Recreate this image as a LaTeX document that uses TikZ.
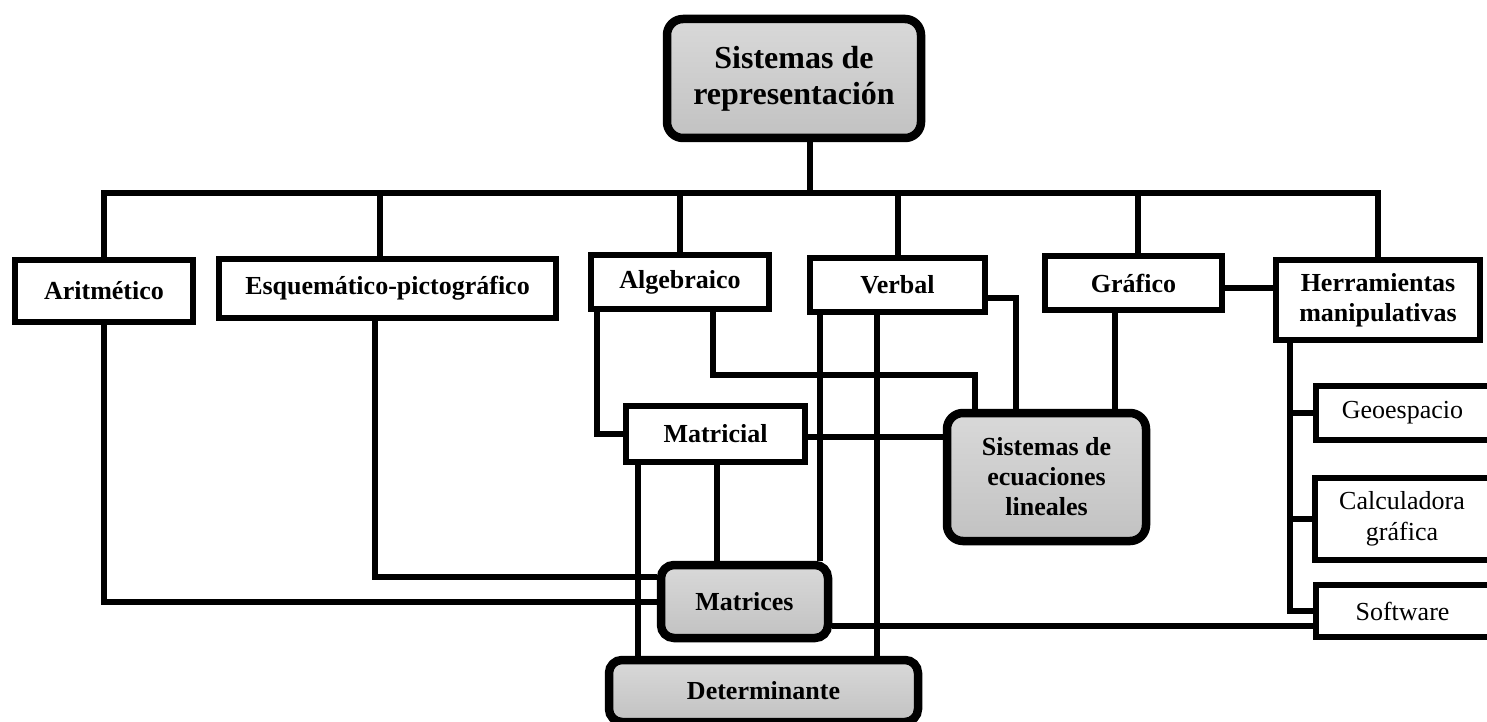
\documentclass[tikz,border=0pt]{standalone}
\usepackage{fontspec}
\setmainfont{Liberation Serif}
\usetikzlibrary{calc}

\tikzset{
  lbl/.style={font=\fontsize{26}{30}\selectfont\bfseries, align=center},
  plainbox/.style={draw, line width=6pt, fill=white, inner sep=0pt, lbl},
  toolbox/.style={draw, line width=6pt, fill=white, inner sep=0pt, align=center,
    font=\fontsize{26}{31}\selectfont},
  keybox/.style={draw, line width=8.5pt, rounded corners=16pt, inner sep=0pt,
    top color=gray!30, bottom color=gray!48, lbl},
  link/.style={line width=6pt, line join=miter, line cap=butt},
}

\begin{document}
\begin{tikzpicture}[x=1pt, y=-1pt]
  \useasboundingbox (0,0) rectangle (1487,722);
  \clip (0,0) rectangle (1487,722);

  % main concept
  \node[keybox, minimum width=254pt, minimum height=119pt,
        font=\fontsize{32}{36}\selectfont\bfseries] (top) at (794,78.5)
        {Sistemas de\\representación};

  % representation systems
  \node[plainbox, minimum width=178pt, minimum height=62pt] (arit) at (104,291) {Aritmético};
  \node[plainbox, minimum width=337pt, minimum height=59pt] (esq) at (387.5,288.5) {Esquemático-pictográfico};
  \node[plainbox, minimum width=178pt, minimum height=54pt] (alg) at (680,282) {Algebraico};
  \node[plainbox, minimum width=175pt, minimum height=54pt] (verb) at (897.5,285) {Verbal};
  \node[plainbox, minimum width=177pt, minimum height=54pt] (graf) at (1133.5,283) {Gráfico};
  \node[plainbox, minimum width=204pt, minimum height=80pt] (herr) at (1378,300) {Herramientas\\manipulativas};

  \node[plainbox, minimum width=179pt, minimum height=56pt] (matl) at (715.5,434) {Matricial};

  % tools
  \node[toolbox, minimum width=211pt, minimum height=54pt] (geo) at (1421.5,413) {\hspace*{-38pt}Geoespacio};
  \node[toolbox, minimum width=212pt, minimum height=82pt] (calc) at (1421,519) {\hspace*{-38pt}\begin{tabular}{c}Calculadora\\gráfica\end{tabular}};
  \node[toolbox, minimum width=211pt, minimum height=52pt] (soft) at (1421.5,611) {\hspace*{-38pt}Software};

  % key topics
  \node[keybox, minimum width=199pt, minimum height=128pt] (sel) at (1046.5,477)
        {Sistemas de\\ecuaciones\\lineales};
  \node[keybox, minimum width=167pt, minimum height=73pt, rounded corners=13pt] (mat) at (744.5,601.5) {Matrices};
  \node[keybox, minimum width=309pt, minimum height=62pt, rounded corners=13pt] (det) at (763.5,691) {Determinante};

  % connectors
  \coordinate (bus) at (810,193);
  \begin{scope}[link]
    \draw ([xshift=16pt]top.south) -- (bus);
    \draw (arit.north) |- (bus) -| (herr.north);
    \draw ([xshift=-7.5pt]esq.north) -- ++(0,-63);
    \draw (alg.north) -- (alg.north |- bus);
    \draw (verb.north) -- (verb.north |- bus);
    \draw ([xshift=4.5pt]graf.north) -- ++(0,-60);

    \draw (arit.south) |- (mat.west);
    \draw ([xshift=-12.5pt]esq.south) |- ([yshift=24.5pt]mat.west);
    \draw ([xshift=-83pt]alg.south) |- (matl.west);
    \draw ([xshift=33pt]alg.south) -- ++(0,63) -| ([xshift=-71.5pt]sel.north);
    \draw ([yshift=-13pt]verb.east) -| ([xshift=-30.5pt]sel.north);
    \draw ([xshift=-18.5pt]graf.south) -- ([xshift=68.5pt]sel.north);
    \draw ([yshift=-5pt]graf.east) -- ([yshift=12pt]herr.west);
    \draw ([yshift=-3pt]matl.east) -- ([yshift=40pt]sel.west);

    \draw ([xshift=-77.5pt]matl.south) -- ([xshift=-125.5pt]det.north);
    \draw ([xshift=1.5pt]matl.south) -- ([xshift=-27.5pt]mat.north);
    \draw ([xshift=-77.5pt]verb.south) -- ([xshift=75.5pt]mat.north);
    \draw ([xshift=-20.5pt]verb.south) -- ([xshift=113.5pt]det.north);
    \draw ([yshift=-24.5pt]mat.east) -- ([yshift=-15pt]soft.west);

    \draw ([xshift=-88pt]herr.south) |- (soft.west);
    \draw (geo.west) -- ++(-24,0);
    \draw (calc.west) -- ++(-23,0);
  \end{scope}
\end{tikzpicture}
\end{document}
